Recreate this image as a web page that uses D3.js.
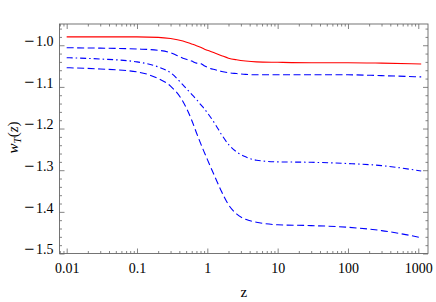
<!DOCTYPE html>
<html lang="en">
<head>
<meta charset="utf-8">
<title>w_T(z)</title>
<script src="https://d3js.org/d3.v7.min.js"></script>
<style>
  body { margin: 0; background: #fff; }
  text { font-family: "Liberation Serif", "DejaVu Serif", serif; fill: #000; }
</style>
</head>
<body>
<script>
"use strict";

// redshift grid shared by all curves
const zs = [0.01, 0.03, 0.1, 0.2, 0.3, 0.45, 0.6, 0.7, 0.8, 0.9, 1, 1.3, 1.6, 2, 2.6, 3.5, 5, 10, 30, 100, 300, 1100];

// values
const wRed = [-0.980, -0.980, -0.980, -0.981, -0.984, -0.990, -0.997, -1.001, -1.005, -1.009, -1.012, -1.019, -1.025, -1.031, -1.035, -1.038, -1.040, -1.041, -1.042, -1.042, -1.043, -1.045];
const wDashTop = [-1.006, -1.007, -1.009, -1.012, -1.018, -1.031, -1.038, -1.043, -1.044, -1.049, -1.053, -1.059, -1.063, -1.066, -1.068, -1.070, -1.071, -1.071, -1.071, -1.071, -1.073, -1.076];
const wDashDot = [-1.030, -1.033, -1.040, -1.052, -1.066, -1.095, -1.118, -1.130, -1.142, -1.152, -1.162, -1.190, -1.215, -1.238, -1.256, -1.268, -1.276, -1.280, -1.281, -1.284, -1.289, -1.302];
const wDashLow = [-1.054, -1.057, -1.064, -1.080, -1.098, -1.135, -1.180, -1.210, -1.235, -1.256, -1.274, -1.318, -1.352, -1.383, -1.405, -1.418, -1.425, -1.431, -1.433, -1.437, -1.445, -1.462];

const xTicks = [0.01, 0.1, 1, 10, 100, 1000];
const xTickLabels = ["0.01", "0.1", "1", "10", "100", "1000"];
const yTicks = [-1.0, -1.1, -1.2, -1.3, -1.4, -1.5];
const yTickLabels = ["1.0", "1.1", "1.2", "1.3", "1.4", "1.5"]; // drawn with a long minus in front

const W = 436, H = 302;
const m = {left: 59.5, right: 8, top: 24, bottom: 48.5};

const svg = d3.select("body").append("svg")
  .attr("width", W).attr("height", H);

const x = d3.scaleLog()
  .domain([Math.pow(10, -2.102), Math.pow(10, 3.138)])
  .range([m.left, W - m.right]);
const y = d3.scaleLinear()
  .domain([-1.5, -0.949])
  .range([H - m.bottom, m.top]);

// minor ticks
let xMinor = [];
for (let e = -3; e <= 3; e++) {
  for (let k = 2; k <= 9; k++) {
    let v = k * Math.pow(10, e);
    if (v >= x.domain()[0] && v <= x.domain()[1]) xMinor.push(v);
  }
}
let yMinor = d3.range(-1.5, -0.949, 0.02).filter(v => !yTicks.some(t => Math.abs(t - v) < 1e-6));

const fmt = "#666";
const yBot = H - m.bottom, yTop = m.top, xLft = m.left, xRgt = W - m.right;

// axes via d3.axis, ticks pointing inward
function styleAxis(g) {
  g.select(".domain").remove();
  g.selectAll("line").attr("stroke", fmt).attr("stroke-width", 0.8);
}

svg.append("g").attr("transform", `translate(0,${yBot})`)
  .call(d3.axisBottom(x).tickValues(xTicks).tickSizeInner(-5).tickSizeOuter(0)
    .tickFormat((d, i) => xTickLabels[i]).tickPadding(10))
  .call(styleAxis)
  .call(g => g.selectAll("text").attr("font-size", 14).attr("fill", "#000")
    .attr("font-family", "Liberation Serif"));
svg.append("g").attr("transform", `translate(0,${yBot})`)
  .call(d3.axisBottom(x).tickValues(xMinor).tickSizeInner(-2.5).tickSizeOuter(0).tickFormat(""))
  .call(styleAxis);
svg.append("g").attr("transform", `translate(0,${yTop})`)
  .call(d3.axisTop(x).tickValues(xTicks).tickSizeInner(-5).tickSizeOuter(0).tickFormat(""))
  .call(styleAxis);
svg.append("g").attr("transform", `translate(0,${yTop})`)
  .call(d3.axisTop(x).tickValues(xMinor).tickSizeInner(-2.5).tickSizeOuter(0).tickFormat(""))
  .call(styleAxis);

svg.append("g").attr("transform", `translate(${xLft},0)`)
  .call(d3.axisLeft(y).tickValues(yTicks).tickSizeInner(-5).tickSizeOuter(0)
    .tickFormat((d, i) => yTickLabels[i]).tickPadding(6))
  .call(styleAxis)
  .call(g => g.selectAll("text").attr("font-size", 14).attr("fill", "#000")
    .attr("font-family", "Liberation Serif")
    .each(function() {
      // long minus sign like the original
      const t = d3.select(this), s = t.text();
      t.text(null);
      t.append("tspan").attr("font-size", 18).attr("dy", "0.05em").text("\u2212");
      t.append("tspan").attr("dx", 1.5).attr("dy", "-0.05em").text(s);
    }));
svg.append("g").attr("transform", `translate(${xLft},0)`)
  .call(d3.axisLeft(y).tickValues(yMinor).tickSizeInner(-2.5).tickSizeOuter(0).tickFormat(""))
  .call(styleAxis);
svg.append("g").attr("transform", `translate(${xRgt},0)`)
  .call(d3.axisRight(y).tickValues(yTicks).tickSizeInner(-5).tickSizeOuter(0).tickFormat(""))
  .call(styleAxis);
svg.append("g").attr("transform", `translate(${xRgt},0)`)
  .call(d3.axisRight(y).tickValues(yMinor).tickSizeInner(-2.5).tickSizeOuter(0).tickFormat(""))
  .call(styleAxis);

// frame
svg.append("rect")
  .attr("x", xLft).attr("y", yTop)
  .attr("width", xRgt - xLft).attr("height", yBot - yTop)
  .attr("fill", "none").attr("stroke", fmt).attr("stroke-width", 0.9);

// curves
const line = d3.line()
  .x((d, i) => x(zs[i]))
  .y(d => y(d))
  .curve(d3.curveMonotoneX);

const series = [
  {vals: wRed, color: "#ff0000", dash: null},
  {vals: wDashTop, color: "#0000ff", dash: "7,3.5"},
  {vals: wDashDot, color: "#0000ff", dash: "6,3,1.5,3"},
  {vals: wDashLow, color: "#0000ff", dash: "7,3.5"}
];

svg.append("g").selectAll("path")
  .data(series)
  .enter()
  .append("path")
  .attr("d", d => line(d.vals))
  .attr("fill", "none")
  .attr("stroke", d => d.color)
  .attr("stroke-width", 1.1)
  .attr("stroke-dasharray", d => d.dash);

// axis labels
svg.append("text")
  .attr("x", (xLft + xRgt) / 2).attr("y", 297)
  .attr("text-anchor", "middle")
  .attr("font-size", 15)
  .text("z");

const yl = svg.append("text")
  .attr("transform", `translate(18,137.5) rotate(-90)`)
  .attr("text-anchor", "middle")
  .attr("font-size", 15);
yl.append("tspan").attr("font-style", "italic").text("w");
yl.append("tspan").attr("font-style", "italic").attr("font-size", 11).attr("dy", 3).text("T");
yl.append("tspan").attr("dy", -3).text("(");
yl.append("tspan").attr("font-style", "italic").text("z");
yl.append("tspan").text(")");
</script>
</body>
</html>
